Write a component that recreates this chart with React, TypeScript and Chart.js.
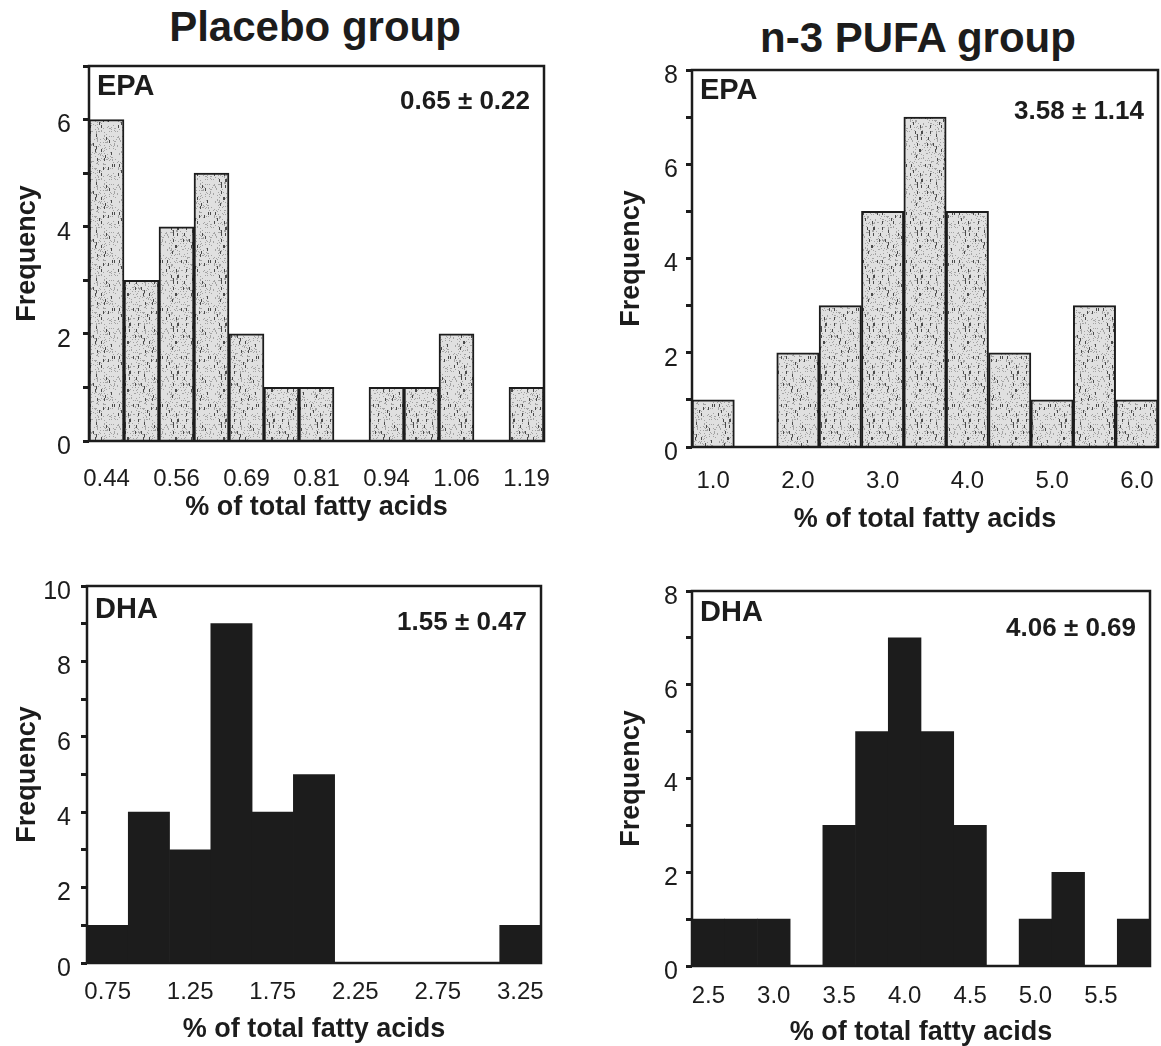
import React, { useEffect, useRef } from 'react';
import { Chart, registerables } from 'chart.js';

Chart.register(...registerables);

// ---------- data ----------
const placeboEpaBins = ['0.44', '0.50', '0.56', '0.63', '0.69', '0.75', '0.81', '0.88', '0.94', '1.00', '1.06', '1.13', '1.19'];
const placeboEpaCounts = [6, 3, 4, 5, 2, 1, 1, 0, 1, 1, 2, 0, 1];

const pufaEpaBins = ['1.0', '1.5', '2.0', '2.5', '3.0', '3.5', '4.0', '4.5', '5.0', '5.5', '6.0'];
const pufaEpaCounts = [1, 0, 2, 3, 5, 7, 5, 2, 1, 3, 1];

const placeboDhaBins = ['0.75', '1.00', '1.25', '1.50', '1.75', '2.00', '2.25', '2.50', '2.75', '3.00', '3.25'];
const placeboDhaCounts = [1, 4, 3, 9, 4, 5, 0, 0, 0, 0, 1];

const pufaDhaBins = ['2.5', '2.75', '3.0', '3.25', '3.5', '3.75', '4.0', '4.25', '4.5', '4.75', '5.0', '5.25', '5.5', '5.75'];
const pufaDhaCounts = [1, 1, 1, 0, 3, 5, 7, 5, 3, 0, 1, 2, 0, 1];

const groupTitles = ['Placebo group', 'n-3 PUFA group'];
const xAxisTitle = '% of total fatty acids';
const yAxisTitle = 'Frequency';

// ---------- layout / style ----------
const FONT = '"Liberation Sans", Arial, Helvetica, sans-serif';
const INK = '#1c1c1c';

Chart.defaults.font.family = FONT;

type PanelCfg = {
  bins: string[];
  counts: number[];
  yMax: number;
  acid: string;
  stat: string;
  dark: boolean;
  box: { left: number; top: number; width: number; height: number };
  plot: { left: number; top: number; right: number; bottom: number };
  yTickPad: number;
  xTickPad: number;
  xTitlePad: number;
  yTitlePad: number;
  acidDy: number;
  statDy: number;
};

const panels: PanelCfg[] = [
  {
    bins: placeboEpaBins, counts: placeboEpaCounts, yMax: 7, acid: 'EPA', stat: '0.65 ± 0.22', dark: false,
    box: { left: 0, top: 50, width: 560, height: 480 },
    plot: { left: 89, top: 66, right: 544, bottom: 441 },
    yTickPad: 12, xTickPad: 23.5, xTitlePad: 8.5, yTitlePad: 14.5, acidDy: 21, statDy: 36,
  },
  {
    bins: pufaEpaBins, counts: pufaEpaCounts, yMax: 8, acid: 'EPA', stat: '3.58 ± 1.14', dark: false,
    box: { left: 600, top: 50, width: 561, height: 490 },
    plot: { left: 692, top: 70, right: 1158, bottom: 447 },
    yTickPad: 8, xTickPad: 19.5, xTitlePad: 6.5, yTitlePad: 18.5, acidDy: 21, statDy: 42,
  },
  {
    bins: placeboDhaBins, counts: placeboDhaCounts, yMax: 10, acid: 'DHA', stat: '1.55 ± 0.47', dark: true,
    box: { left: 0, top: 560, width: 560, height: 486 },
    plot: { left: 87, top: 586, right: 541, bottom: 963 },
    yTickPad: 10, xTickPad: 14.5, xTitlePad: 2.5, yTitlePad: 14.5, acidDy: 24, statDy: 37,
  },
  {
    bins: pufaDhaBins, counts: pufaDhaCounts, yMax: 8, acid: 'DHA', stat: '4.06 ± 0.69', dark: true,
    box: { left: 600, top: 560, width: 561, height: 486 },
    plot: { left: 692, top: 591, right: 1150, bottom: 966 },
    yTickPad: 8, xTickPad: 15.5, xTitlePad: 0, yTitlePad: 18.5, acidDy: 22, statDy: 38,
  },
];

function texHash(x: number, y: number): number {
  let h = (Math.imul(x, 374761393) + Math.imul(y, 668265263)) | 0;
  h = Math.imul(h ^ (h >>> 13), 1274126177);
  h = h ^ (h >>> 16);
  return (h >>> 0) % 1000;
}

function makeStipple(): CanvasPattern | string {
  const n = 48;
  const c = document.createElement('canvas');
  c.width = n;
  c.height = n;
  const g = c.getContext('2d');
  if (!g) return '#cccccc';
  g.fillStyle = '#e0e0e0';
  g.fillRect(0, 0, n, n);
  for (let y = 0; y < n; y++) {
    for (let x = 0; x < n; x++) {
      const streak = texHash(x, Math.floor(y / 3));
      const dot = texHash(x + 97, y + 31);
      if (streak < 55) {
        g.fillStyle = '#4a4a4a';
        g.fillRect(x, y, 1, 1);
      } else if (dot < 130) {
        g.fillStyle = '#a4a4a4';
        g.fillRect(x, y, 1, 1);
      }
    }
  }
  const p = g.createPattern(c, 'repeat');
  return p || '#cccccc';
}

const panelDecor = {
  id: 'panelDecor',
  afterDraw(chart: any, _args: any, opts: any) {
    const { ctx, chartArea: a } = chart;
    ctx.save();
    ctx.strokeStyle = INK;
    ctx.lineWidth = 2.5;
    ctx.strokeRect(a.left, a.top, a.right - a.left, a.bottom - a.top);
    ctx.fillStyle = INK;
    ctx.textBaseline = 'middle';
    ctx.textAlign = 'left';
    ctx.font = `bold 29px ${FONT}`;
    ctx.fillText(opts.acid, a.left + 8, a.top + opts.acidDy);
    ctx.textAlign = 'right';
    ctx.font = `bold 26px ${FONT}`;
    ctx.fillText(opts.stat, a.right - 14, a.top + opts.statDy);
    ctx.restore();
  },
};

function Panel({ cfg }: { cfg: PanelCfg }) {
  const ref = useRef<HTMLCanvasElement>(null);
  useEffect(() => {
    const canvas = ref.current;
    if (!canvas) return;
    const { box, plot } = cfg;
    const yW = plot.left - box.left;
    const xH = box.top + box.height - plot.bottom;
    const chart = new Chart(canvas, {
      type: 'bar',
      data: {
        labels: cfg.bins,
        datasets: [
          {
            data: cfg.counts,
            backgroundColor: cfg.dark ? INK : makeStipple(),
            borderColor: INK,
            borderWidth: cfg.dark ? 0 : 2,
            barPercentage: 1,
            categoryPercentage: 1,
          },
        ],
      },
      options: {
        responsive: false,
        maintainAspectRatio: false,
        animation: false,
        layout: {
          padding: {
            top: plot.top - box.top,
            right: box.left + box.width - plot.right,
            left: 0,
            bottom: 0,
          },
        },
        plugins: {
          legend: { display: false },
          tooltip: { enabled: false },
          panelDecor: { acid: cfg.acid, stat: cfg.stat, acidDy: cfg.acidDy, statDy: cfg.statDy },
        } as any,
        scales: {
          x: {
            type: 'category',
            grid: { display: false, drawTicks: false },
            border: { display: false },
            ticks: {
              autoSkip: false,
              maxRotation: 0,
              minRotation: 0,
              padding: cfg.xTickPad,
              color: INK,
              font: { size: 24 },
              callback: function (this: any, v: any, i: number) {
                return i % 2 === 0 ? this.getLabelForValue(v) : '';
              },
            },
            title: {
              display: true,
              text: xAxisTitle,
              color: INK,
              font: { size: 27, weight: 'bold', lineHeight: 1 },
              padding: { top: 0, bottom: cfg.xTitlePad },
            },
            afterFit: (s: any) => {
              s.height = xH;
              s.paddingLeft = 0;
              s.paddingRight = 0;
              s.paddingTop = 0;
              s.paddingBottom = 0;
            },
          },
          y: {
            min: 0,
            max: cfg.yMax,
            grid: {
              display: true,
              drawOnChartArea: false,
              drawTicks: true,
              tickLength: 6,
              tickWidth: 3,
              tickColor: INK,
            },
            border: { display: false },
            ticks: {
              stepSize: 1,
              padding: cfg.yTickPad,
              labelOffset: 6,
              color: INK,
              font: { size: 25 },
              callback: (v: any) => (Number(v) % 2 === 0 ? String(v) : ''),
            },
            title: {
              display: true,
              text: yAxisTitle,
              color: INK,
              font: { size: 27, weight: 'bold', lineHeight: 1 },
              padding: { top: cfg.yTitlePad, bottom: 0 },
            },
            afterFit: (s: any) => {
              s.width = yW;
              s.paddingLeft = 0;
              s.paddingRight = 0;
              s.paddingTop = 0;
              s.paddingBottom = 0;
            },
          },
        },
      } as any,
      plugins: [panelDecor as any],
    });
    return () => chart.destroy();
  }, [cfg]);
  const { box } = cfg;
  return (
    <canvas
      ref={ref}
      width={box.width}
      height={box.height}
      style={{ position: 'absolute', left: box.left, top: box.top, width: box.width, height: box.height }}
    />
  );
}

export default function App() {
  const titleStyle: React.CSSProperties = {
    position: 'absolute',
    width: 420,
    textAlign: 'center',
    fontFamily: FONT,
    fontWeight: 'bold',
    fontSize: 42,
    lineHeight: '42px',
    color: INK,
    whiteSpace: 'nowrap',
  };
  return (
    <div
      style={{
        position: 'absolute',
        left: 0,
        top: 0,
        width: 1161,
        height: 1046,
        background: '#ffffff',
        overflow: 'hidden',
      }}
    >
      <div style={{ ...titleStyle, left: 315 - 210, top: 6 }}>{groupTitles[0]}</div>
      <div style={{ ...titleStyle, left: 918 - 210, top: 17 }}>{groupTitles[1]}</div>
      {panels.map((p, i) => (
        <Panel key={i} cfg={p} />
      ))}
    </div>
  );
}
